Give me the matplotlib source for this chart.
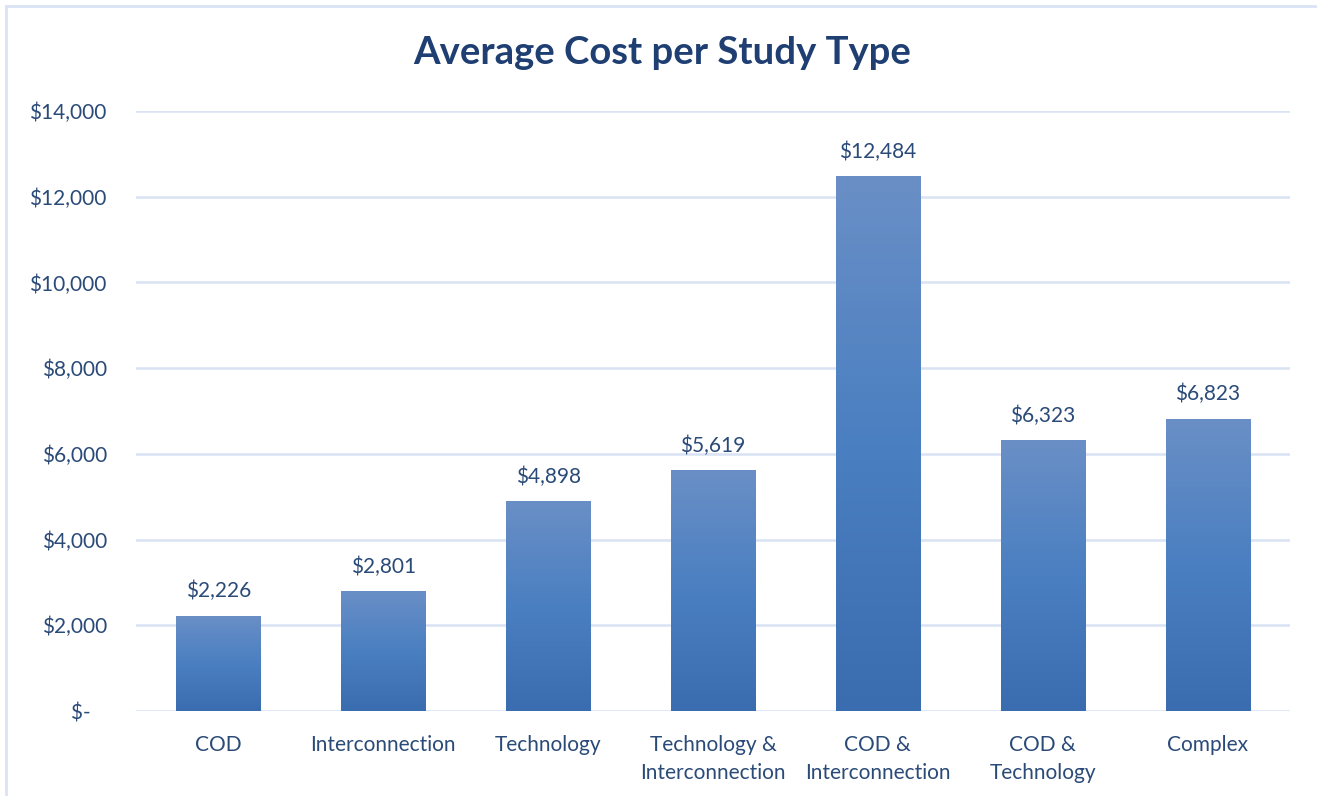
import numpy as np
import matplotlib.pyplot as plt
from matplotlib.lines import Line2D
from matplotlib.colors import LinearSegmentedColormap

# data
categories = ['COD', 'Interconnection', 'Technology', 'Technology &\nInterconnection',
              'COD &\nInterconnection', 'COD &\nTechnology', 'Complex']
avg_cost = [2226, 2801, 4898, 5619, 12484, 6323, 6823]
y_ticks = [0, 2000, 4000, 6000, 8000, 10000, 12000, 14000]
y_labels = ['$-\u00a0\u00a0\u00a0', '$2,000', '$4,000', '$6,000', '$8,000', '$10,000', '$12,000', '$14,000']

text_col = '#2A4A78'
grid_col = '#D9E3F4'

plt.rcParams['font.family'] = ['Lato', 'DejaVu Sans']

W, H = 1317, 796
fig = plt.figure(figsize=(W / 100, H / 100), dpi=100)
ax = fig.add_axes([136 / W, 1 - 711 / H, (1290 - 136) / W, (711 - 111) / H])

x = np.arange(len(categories))
bars = ax.bar(x, avg_cost, width=0.51, color='none', zorder=3)

# vertical gradient inside every bar
grad = np.linspace(0, 1, 256).reshape(-1, 1)
cmap = LinearSegmentedColormap.from_list('bar', ['#3A6DB0', '#4A7FC1', '#6A8FC6'])
for b in bars:
    x0, y0 = b.get_x(), b.get_y()
    im = ax.imshow(grad, extent=[x0, x0 + b.get_width(), y0, y0 + b.get_height()],
                   origin='lower', cmap=cmap, aspect='auto', zorder=3)
    im.set_clip_path(b)

for xi, v in zip(x, avg_cost):
    ax.text(xi, v + 330, f'${v:,}', ha='center', va='bottom', fontsize=15, color=text_col, zorder=4)

ax.set_xlim(-0.5, len(categories) - 0.5)
ax.set_ylim(0, 14000)
ax.set_yticks(y_ticks)
ax.set_yticklabels(y_labels)
ax.set_xticks(x)
ax.set_xticklabels(categories, linespacing=1.5)
ax.tick_params(axis='both', length=0, labelsize=15, labelcolor=text_col)
ax.tick_params(axis='y', pad=21)
ax.tick_params(axis='x', pad=17)

ax.grid(axis='y', color=grid_col, linewidth=1.8, zorder=0)
ax.set_axisbelow(True)
for s in ax.spines.values():
    s.set_visible(False)

fig.text(662 / W, 1 - 53 / H, 'Average Cost per Study Type', ha='center', va='center',
         fontsize=27.5, fontweight='bold', color='#1F3F73')

# chart frame (top and left edges visible)
fig.add_artist(Line2D([6 / W, 1], [1 - 6 / H, 1 - 6 / H], color=grid_col, linewidth=2))
fig.add_artist(Line2D([6 / W, 6 / W], [0, 1 - 6 / H], color=grid_col, linewidth=2))

fig.savefig('out.png', dpi=100)
